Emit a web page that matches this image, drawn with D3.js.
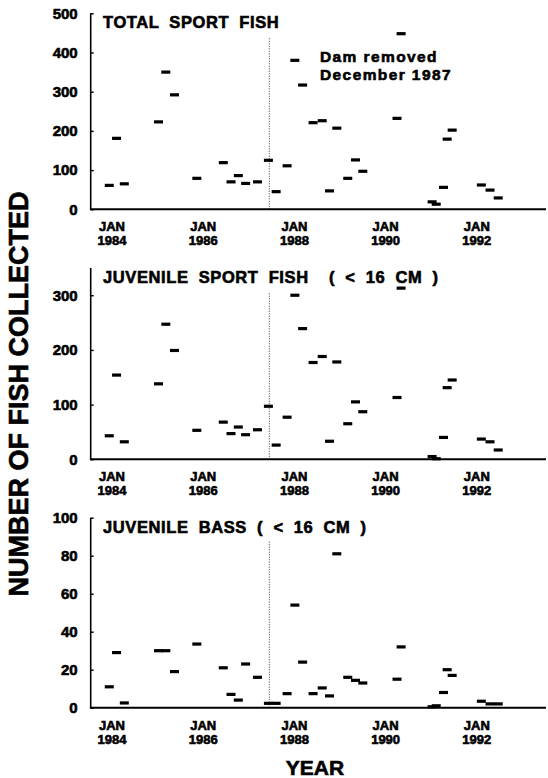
<!DOCTYPE html>
<html>
<head>
<meta charset="utf-8">
<script src="https://cdn.jsdelivr.net/npm/d3@7"></script>
<style>
body { margin: 0; background: #fff; }
svg text { font-family: 'Liberation Sans', Arial, sans-serif; font-weight: bold; fill: #000; stroke: #000; stroke-width: 0.6px; }
</style>
</head>
<body>
<svg id="chart" width="548" height="778"></svg>
<script>
var sampleYears = [1983.94, 1984.10, 1984.27, 1985.02, 1985.18, 1985.37, 1985.86, 1986.44, 1986.61, 1986.77,
    1986.93, 1987.19, 1987.43, 1987.60, 1987.84, 1988.01, 1988.18, 1988.41, 1988.61, 1988.77,
    1988.93, 1989.17, 1989.34, 1989.50, 1990.25, 1990.34, 1991.02, 1991.11, 1991.27, 1991.35,
    1991.46, 1992.10, 1992.29, 1992.47];

var totalSport = [61, 181, 65, 223, 350, 292, 79, 119, 70, 86,
    66, 70, 125, 45, 111, 380, 317, 221, 226, 47,
    207, 79, 126, 97, 232, 448, 19, 13, 56, 179,
    202, 62, 49, 29];

var juvenileSport = [43, 154, 32, 138, 247, 199, 53, 68, 47, 59,
    45, 54, 97, 26, 77, 300, 239, 177, 188, 33,
    178, 65, 105, 87, 113, 313, 5, 1, 40, 131,
    145, 37, 32, 17];

var juvenileBass = [11, 29, 2.5, 30, 30, 19, 33.5, 21, 7, 4,
    23, 16, 2.3, 2.3, 7.4, 54, 24, 7.4, 10.4, 6.2,
    81, 16, 14.4, 13, 15, 32, 0.5, 1, 8, 20,
    17, 3.4, 2, 2];

var tickYears = [1984, 1986, 1988, 1990, 1992];
var damYear = 1987.45;
var damText = ['Dam removed', 'December 1987'];

var panelTitles = ['TOTAL SPORT FISH', 'JUVENILE SPORT FISH  ( < 16 CM )', 'JUVENILE BASS ( < 16 CM )'];
var panelTicks = [[0, 100, 200, 300, 400, 500], [0, 100, 200, 300], [0, 20, 40, 60, 80, 100]];
var panelMax = [500, 350, 100];

var svg = d3.select('#chart');

// pixel layout of the three stacked panels
var layout = [
    {top: 13.3, bottom: 209.3},
    {top: 267.9, bottom: 459.3},
    {top: 517.7, bottom: 707.7}
];
var axisLeft = 90.7,
    axisRight = 546;

var x = d3.scaleLinear()
    .domain([1984, 1992])
    .range([112, 476.8]);

var series = [totalSport, juvenileSport, juvenileBass];

series.forEach(function(values, i) {
    var box = layout[i];
    var y = d3.scaleLinear()
        .domain([0, panelMax[i]])
        .range([box.bottom, box.top]);

    var g = svg.append('g');

    // y axis line
    g.append('line')
        .attr('x1', axisLeft).attr('x2', axisLeft)
        .attr('y1', box.bottom).attr('y2', box.top)
        .attr('stroke', '#000')
        .attr('stroke-width', 1.6);

    // x axis line
    g.append('line')
        .attr('x1', axisLeft - 0.8).attr('x2', axisRight)
        .attr('y1', box.bottom).attr('y2', box.bottom)
        .attr('stroke', '#000')
        .attr('stroke-width', 2);

    var yAxis = g.append('g')
        .attr('transform', 'translate(' + axisLeft + ',0)')
        .call(d3.axisLeft(y).tickValues(panelTicks[i]).tickSize(-3).tickSizeOuter(0).tickPadding(13));
    yAxis.select('.domain').remove();
    yAxis.selectAll('.tick line').attr('stroke', '#000').attr('stroke-width', 1.4);
    yAxis.selectAll('.tick text')
        .attr('font-size', 15)
        .attr('font-family', null);

    // dam removal dotted line
    g.append('line')
        .attr('x1', x(damYear)).attr('x2', x(damYear))
        .attr('y1', box.bottom).attr('y2', box.top + 24)
        .attr('stroke', '#000')
        .attr('stroke-width', 0.8)
        .attr('stroke-dasharray', '1,1.5');

    // data dashes
    g.append('g')
        .selectAll('rect')
        .data(values)
        .enter().append('rect')
        .attr('x', function(d, k) {
            return x(sampleYears[k]) - 4.5;
        })
        .attr('y', function(d) {
            return y(d) - 1.6;
        })
        .attr('width', 9)
        .attr('height', 3.2)
        .attr('fill', '#000');

    // panel title
    g.append('text')
        .attr('x', 103)
        .attr('y', box.top + 15)
        .attr('font-size', 16.5)
        .attr('letter-spacing', 0.6)
        .attr('word-spacing', 5)
        .style('white-space', 'pre')
        .text(panelTitles[i]);

    // x tick labels
    var lab = g.append('g')
        .selectAll('g')
        .data(tickYears)
        .enter().append('g')
        .attr('transform', function(d) {
            return 'translate(' + x(d) + ',' + box.bottom + ')';
        });
    lab.append('text')
        .attr('y', 22)
        .attr('text-anchor', 'middle')
        .attr('font-size', 13)
        .text('JAN');
    lab.append('text')
        .attr('y', 36)
        .attr('text-anchor', 'middle')
        .attr('font-size', 13)
        .text(function(d) {
            return d;
        });
});

// dam annotation
svg.append('g')
    .selectAll('text')
    .data(damText)
    .enter().append('text')
    .attr('x', 320)
    .attr('y', function(d, i) {
        return 62 + i * 18;
    })
    .attr('font-size', 15.5)
    .attr('letter-spacing', 1.4)
    .text(function(d) {
        return d;
    });

svg.append('text')
    .attr('transform', 'translate(28,394) rotate(-90)')
    .attr('text-anchor', 'middle')
    .attr('font-size', 27)
    .text('NUMBER OF FISH COLLECTED');

svg.append('text')
    .attr('x', 315)
    .attr('y', 775)
    .attr('text-anchor', 'middle')
    .attr('font-size', 21)
    .text('YEAR');
</script>
</body>
</html>
